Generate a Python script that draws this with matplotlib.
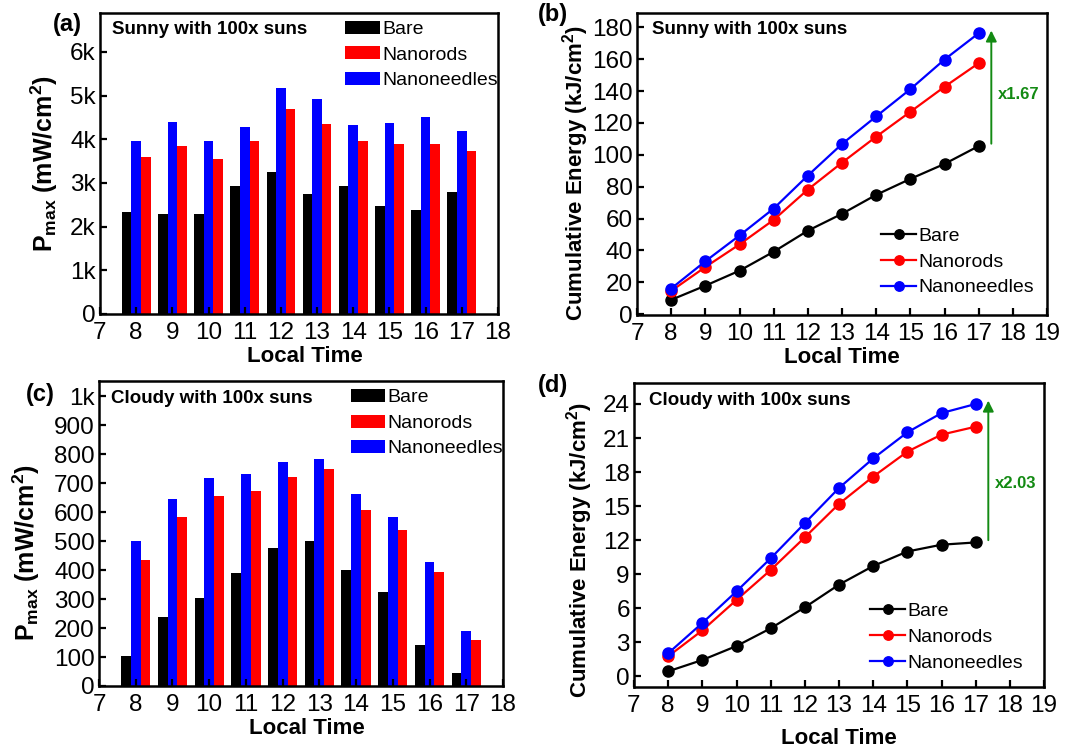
import matplotlib
matplotlib.use("Agg")
import matplotlib.pyplot as plt
import numpy as np

plt.rcParams['font.family'] = ['Liberation Sans', 'DejaVu Sans']
plt.rcParams['mathtext.fontset'] = 'custom'
plt.rcParams['mathtext.rm'] = 'Liberation Sans:bold'
plt.rcParams['mathtext.bf'] = 'Liberation Sans:bold'
plt.rcParams['mathtext.it'] = 'Liberation Sans:bold'
plt.rcParams['mathtext.default'] = 'bf'

# ---------------- data ----------------
hours = [8, 9, 10, 11, 12, 13, 14, 15, 16, 17]
series_names = ["Bare", "Nanorods", "Nanoneedles"]

# (a) sunny Pmax (mW/cm^2)
sunny_bare = [2340, 2290, 2280, 2930, 3250, 2740, 2930, 2480, 2390, 2790]
sunny_rods = [3600, 3850, 3540, 3950, 4690, 4340, 3970, 3880, 3890, 3720]
sunny_needles = [3960, 4400, 3960, 4280, 5170, 4930, 4330, 4370, 4500, 4180]

# (b) sunny cumulative energy (kJ/cm^2)
sunny_cum_bare = [9.0, 17.9, 27.3, 39.2, 52.4, 63.0, 74.9, 84.9, 94.3, 105.5]
sunny_cum_rods = [14.6, 29.6, 43.8, 59.2, 78.2, 95.1, 111.4, 127.0, 142.7, 157.5]
sunny_cum_needles = [16.1, 33.2, 49.4, 66.3, 87.0, 106.8, 124.1, 141.2, 159.8, 176.3]

# (c) cloudy Pmax (mW/cm^2)
cloudy_bare = [105, 238, 305, 391, 475, 501, 399, 325, 143, 46]
cloudy_rods = [433, 584, 655, 671, 720, 747, 606, 539, 393, 159]
cloudy_needles = [500, 646, 718, 732, 772, 782, 661, 584, 426, 189]

# (d) cloudy cumulative energy (kJ/cm^2)
cloudy_cum_bare = [0.44, 1.44, 2.67, 4.23, 6.08, 8.08, 9.72, 11.0, 11.6, 11.8]
cloudy_cum_rods = [1.76, 4.05, 6.73, 9.37, 12.25, 15.2, 17.6, 19.8, 21.3, 22.0]
cloudy_cum_needles = [2.03, 4.70, 7.49, 10.4, 13.5, 16.6, 19.2, 21.5, 23.2, 24.0]

sunny_ticks = [0, 1000, 2000, 3000, 4000, 5000, 6000]
sunny_ticklabels = ["0", "1k", "2k", "3k", "4k", "5k", "6k"]
cloudy_ticks = [0, 100, 200, 300, 400, 500, 600, 700, 800, 900, 1000]
cloudy_ticklabels = ["0", "100", "200", "300", "400", "500", "600", "700", "800", "900", "1k"]

sunny_factor = "x1.67"
cloudy_factor = "x2.03"

colors = ["#000000", "#ff0000", "#0000ff"]
green = "#138a13"

W, H = 1069, 748
fig = plt.figure(figsize=(W / 100, H / 100), dpi=100)


def add_ax(l, r, t, b):
    return fig.add_axes([l / W, (H - b) / H, (r - l) / W, (b - t) / H])


TICK_FS = 17.5
LABEL_FS = 16


def style(ax):
    for s in ax.spines.values():
        s.set_linewidth(1.8)
    ax.tick_params(direction='in', length=5, width=1.6, labelsize=TICK_FS,
                   top=False, right=False)
    ax.tick_params(axis='x', pad=6)
    ax.tick_params(axis='y', pad=3)


def bar_panel(ax, bare, rods, needles, yt, ytl, ylim, title, ylabel_x, ylabel_y, xlabel_y):
    x = np.array(hours, dtype=float)
    w = 0.265
    ax.bar(x - w, bare, width=w, color=colors[0], label=series_names[0])
    ax.bar(x + w, rods, width=w, color=colors[1], label=series_names[1])
    ax.bar(x, needles, width=w, color=colors[2], label=series_names[2])
    ax.set_xlim(7, 18)
    ax.set_xticks(range(7, 19))
    ax.set_ylim(*ylim)
    ax.set_yticks(yt)
    ax.set_yticklabels(ytl)
    style(ax)
    ax.legend(loc='upper right',
              bbox_to_anchor=(1.005, 0.98), frameon=False, fontsize=14,
              handlelength=1.75, handleheight=0.65, handletextpad=0.15,
              labelspacing=0.42, borderpad=0.1, borderaxespad=0)
    ax.text(0.03, 0.944, title, transform=ax.transAxes, fontsize=13.5,
            fontweight='bold', va='center', ha='left')
    ax.set_xlabel("Local Time", fontsize=LABEL_FS, fontweight='bold')
    ax.xaxis.set_label_coords(0.515, xlabel_y)
    ax.set_ylabel(r"P$_{max}$ (mW/cm$^{2}$)", fontsize=18, fontweight='bold')
    ax.yaxis.set_label_coords(ylabel_x, ylabel_y)


def line_panel(ax, bare, rods, needles, ylim, yt, title, factor, arrow_from, arrow_to, factor_y,
               leg_anchor, ylabel_x, ylabel_y, xlabel_y):
    for vals, c, n in zip([bare, rods, needles], colors, series_names):
        ax.plot(hours, vals, '-o', color=c, lw=1.6, ms=8, mfc=c, mec=c, label=n, zorder=3)
    ax.set_xlim(7, 19)
    ax.set_xticks(range(7, 20))
    ax.set_ylim(*ylim)
    ax.set_yticks(yt)
    style(ax)
    ax.legend(loc='lower right', bbox_to_anchor=leg_anchor, frameon=False, fontsize=14,
              handlelength=1.8, handletextpad=0.1, labelspacing=0.42, markerscale=0.85,
              borderpad=0.1, borderaxespad=0)
    ax.text(0.037, 0.944, title, transform=ax.transAxes, fontsize=13.5,
            fontweight='bold', va='center', ha='left')
    ax.annotate("", xy=(17.37, arrow_to), xytext=(17.37, arrow_from),
                arrowprops=dict(arrowstyle='-|>', color=green, lw=1.4, mutation_scale=16,
                                shrinkA=0, shrinkB=0))
    ax.text(18.17, factor_y, factor, color=green, fontsize=12, fontweight='bold',
            ha='center', va='center')
    ax.set_xlabel("Local Time", fontsize=LABEL_FS, fontweight='bold')
    ax.xaxis.set_label_coords(0.5, xlabel_y)
    ax.set_ylabel(r"Cumulative Energy (kJ/cm$^{2}$)", fontsize=LABEL_FS, fontweight='bold')
    ax.yaxis.set_label_coords(ylabel_x, ylabel_y)


ax_a = add_ax(100, 498, 13, 314)
bar_panel(ax_a, sunny_bare, sunny_rods, sunny_needles, sunny_ticks, sunny_ticklabels,
          (0, 6890), "Sunny with 100x suns", -0.10, 0.5, -0.105)

ax_b = add_ax(637, 1047, 13, 315)
line_panel(ax_b, sunny_cum_bare, sunny_cum_rods, sunny_cum_needles, (-0.5, 189),
           list(range(0, 181, 20)), "Sunny with 100x suns", sunny_factor, 107, 178, 138,
           (0.973, 0.055), -0.112, 0.47, -0.106)

ax_c = add_ax(99, 503, 381, 686)
bar_panel(ax_c, cloudy_bare, cloudy_rods, cloudy_needles, cloudy_ticks, cloudy_ticklabels,
          (0, 1052), "Cloudy with 100x suns", -0.141, 0.436, -0.105)

ax_d = add_ax(634, 1044, 383, 687)
line_panel(ax_d, cloudy_cum_bare, cloudy_cum_rods, cloudy_cum_needles, (-0.94, 25.85),
           list(range(0, 25, 3)), "Cloudy with 100x suns", cloudy_factor, 12.0, 24.3, 17.0,
           (0.953, 0.044), -0.095, 0.45, -0.135)

for lbl, px, py in [("(a)", 67, 24), ("(b)", 553, 15), ("(c)", 40, 395), ("(d)", 553, 386)]:
    fig.text(px / W, 1 - py / H, lbl, fontsize=17, fontweight='bold', ha='center', va='center')

fig.savefig("out.png", dpi=100)
